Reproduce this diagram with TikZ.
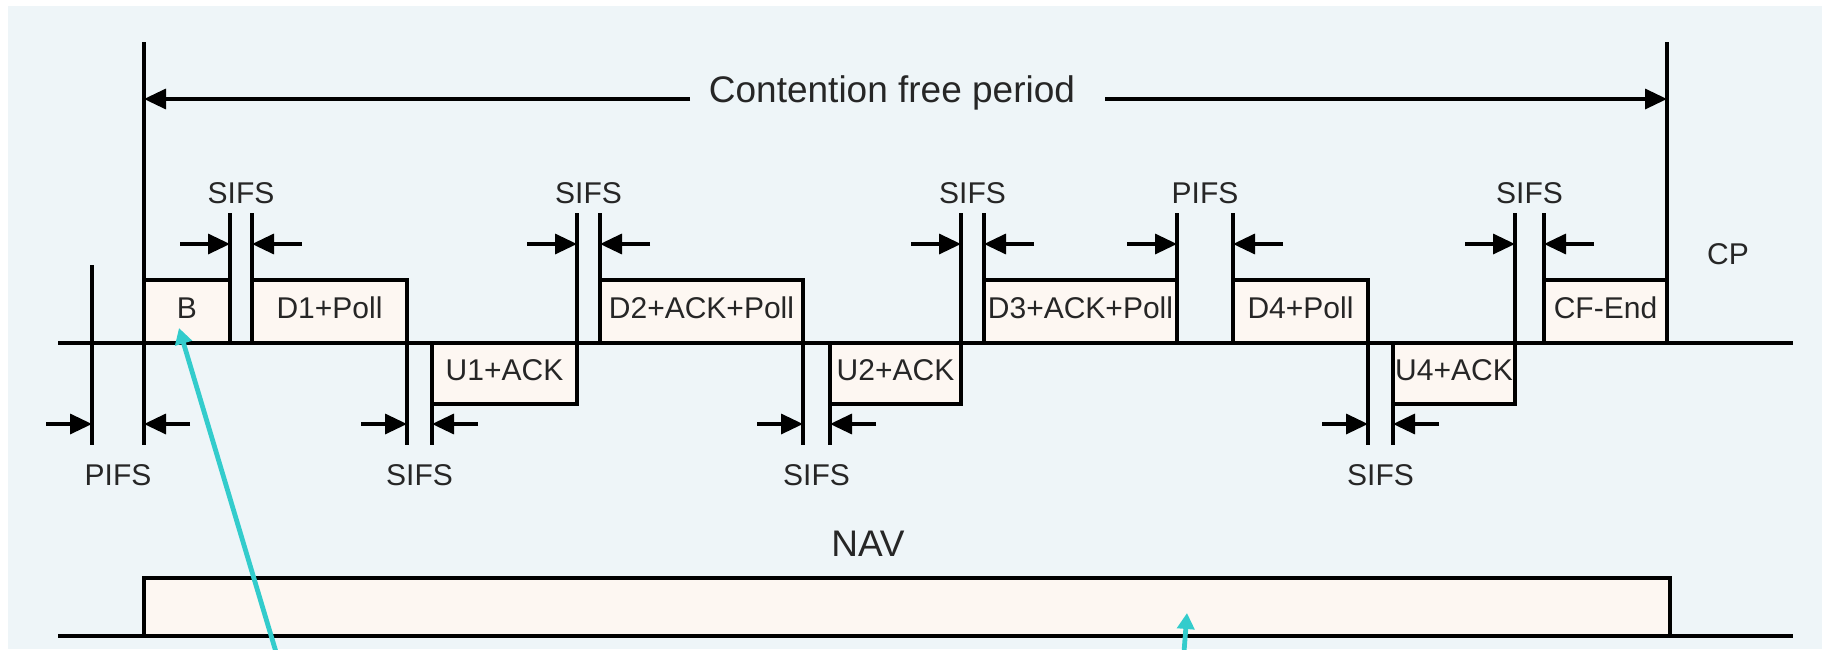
\documentclass[tikz,border=0pt]{standalone}
\usepackage{fontspec}
\setmainfont{Liberation Sans}
\usetikzlibrary{arrows.meta}
\definecolor{bgblue}{HTML}{EEF5F8}
\definecolor{boxfill}{HTML}{FDF7F2}
\definecolor{cyanarr}{HTML}{33CCCC}
\definecolor{txtc}{HTML}{262626}
\begin{document}
\begin{tikzpicture}[x=0.5pt,y=-0.5pt,
  ln/.style={line width=1.7pt},
  frame/.style={draw, line width=1.7pt, fill=boxfill, inner sep=0pt, outer sep=0pt,
    text=txtc, font=\fontsize{15}{18}\selectfont, text height=0.72em, text depth=0pt,
    anchor=north west},
  lbl/.style={text=txtc, font=\fontsize{15}{18}\selectfont, inner sep=0pt,
    text height=0.72em, text depth=0pt},
  big/.style={text=txtc, font=\fontsize{18.5}{22}\selectfont, inner sep=0pt,
    text height=0.72em, text depth=0pt},
  dim/.style={line width=1.7pt, -{Triangle[length=11pt,width=10pt]}},
  cy/.style={draw=cyanarr, line width=2.4pt, -{Triangle[length=8pt,width=8.5pt]}}
]
\useasboundingbox (0,0) rectangle (1822,649);
\fill[white] (0,0) rectangle (1822,649);
\fill[bgblue] (8,6) rectangle (1822,649);

% frames above the axis
\node[frame, minimum width=43pt,   minimum height=31.5pt] (B)   at (144,280)  {B};
\node[frame, minimum width=77.5pt, minimum height=31.5pt] (D1)  at (252,280)  {D1+Poll};
\node[frame, minimum width=101.5pt,minimum height=31.5pt] (D2)  at (600,280)  {D2+ACK+Poll};
\node[frame, minimum width=96.5pt, minimum height=31.5pt] (D3)  at (984,280)  {D3+ACK+Poll};
\node[frame, minimum width=67.5pt, minimum height=31.5pt] (D4)  at (1233,280) {D4+Poll};
\node[frame, minimum width=61.5pt, minimum height=31.5pt] (CFE) at (1544,280) {CF-End};
% frames below the axis
\node[frame, minimum width=72.5pt, minimum height=30.5pt] (U1)  at (432,343)  {U1+ACK};
\node[frame, minimum width=65.5pt, minimum height=30.5pt] (U2)  at (830,343)  {U2+ACK};
\node[frame, minimum width=61pt,   minimum height=30.5pt] (U4)  at (1393,343) {U4+ACK};
% NAV
\node[frame, minimum width=763pt,  minimum height=29pt]   (NAVbox) at (144,578) {};

% axes
\coordinate (axL) at (58,343);  \coordinate (axR) at (1793,343);
\coordinate (navL) at (58,636); \coordinate (navR) at (1793,636);
\draw[ln] (axL) -- (axR);
\draw[ln] (navL) -- (navR);

% big verticals
\coordinate (vLt) at (144,42);  \coordinate (vLb) at (144,445);
\coordinate (vRt) at (1667,42); \coordinate (vRb) at (1667,343);
\draw[ln] (vLt) -- (vLb);
\draw[ln] (vRt) -- (vRb);

% contention free period
\node[big] (cfp) at (892,95) {Contention free period};
\coordinate (cfpL) at (144,99); \coordinate (cfpR) at (1667,99);
\coordinate (cfpA) at (690,99); \coordinate (cfpB) at (1105,99);
\draw[dim] (cfpA) -- (cfpL);
\draw[dim] (cfpB) -- (cfpR);

% upper gaps: xl/xr/bottom of left line/label
\foreach \xl/\xr/\yb/\t/\n in {230/252/343/SIFS/a, 577/600/404/SIFS/b, 961/984/404/SIFS/c,
                                1177/1233/343/PIFS/d, 1515/1544/404/SIFS/e}{
  \coordinate (ut\n l) at (\xl,213); \coordinate (ub\n l) at (\xl,\yb);
  \coordinate (ut\n r) at (\xr,213); \coordinate (ub\n r) at (\xr,343);
  \draw[ln] (ut\n l) -- (ub\n l);
  \draw[ln] (ut\n r) -- (ub\n r);
  \coordinate (ua\n l) at (\xl-50,244); \coordinate (uh\n l) at (\xl,244);
  \coordinate (ua\n r) at (\xr+50,244); \coordinate (uh\n r) at (\xr,244);
  \draw[dim] (ua\n l) -- (uh\n l);
  \draw[dim] (ua\n r) -- (uh\n r);
  \node[lbl] (ul\n) at ({(\xl+\xr)/2},196) {\t};
}

% lower gaps: xl/xr/top of left line/top of right line/label
\foreach \xl/\xr/\ytl/\ytr/\t/\n in {92/144/265/343/PIFS/a, 407/432/280/343/SIFS/b,
                                      803/830/280/343/SIFS/c, 1368/1393/280/343/SIFS/d}{
  \coordinate (lt\n l) at (\xl,\ytl); \coordinate (lb\n l) at (\xl,445);
  \coordinate (lt\n r) at (\xr,\ytr); \coordinate (lb\n r) at (\xr,445);
  \draw[ln] (lt\n l) -- (lb\n l);
  \draw[ln] (lt\n r) -- (lb\n r);
  \coordinate (la\n l) at (\xl-46,424); \coordinate (lh\n l) at (\xl,424);
  \coordinate (la\n r) at (\xr+46,424); \coordinate (lh\n r) at (\xr,424);
  \draw[dim] (la\n l) -- (lh\n l);
  \draw[dim] (la\n r) -- (lh\n r);
  \node[lbl] (ll\n) at ({(\xl+\xr)/2},478) {\t};
}

% other labels
\node[lbl] (CP) at (1728,257) {CP};
\node[big] (NAV) at (868,549) {NAV};

% cyan pointers
\coordinate (c1s) at (276,652); \coordinate (c1e) at (179,328);
\coordinate (c2s) at (1184,652); \coordinate (c2e) at (1187,613);
\draw[cy] (c1s) -- (c1e);
\draw[cy] (c2s) -- (c2e);
\end{tikzpicture}
\end{document}
